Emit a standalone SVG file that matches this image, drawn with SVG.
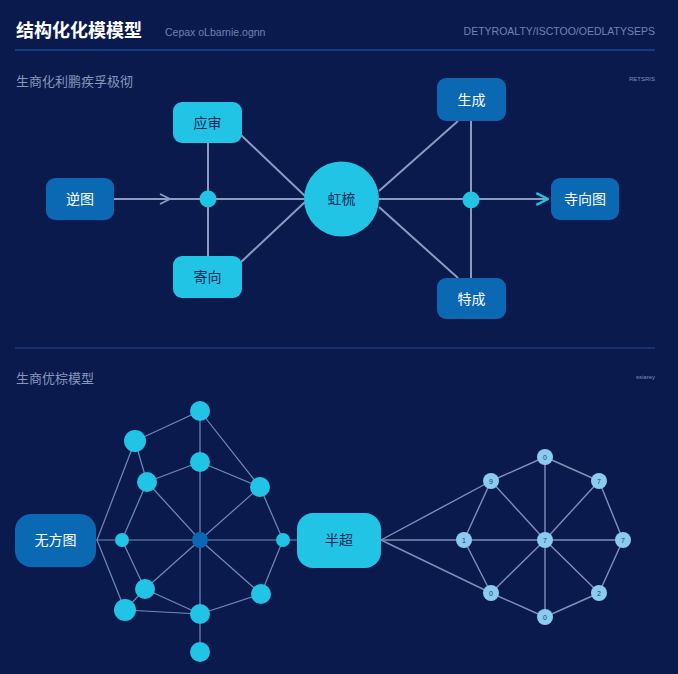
<svg xmlns="http://www.w3.org/2000/svg" width="678" height="674" viewBox="0 0 678 674">
<defs>
<linearGradient id="topfade" x1="0" x2="1" y1="0" y2="0">
<stop offset="0" stop-color="#2a7fc6"/><stop offset="1" stop-color="#2a7fc6" stop-opacity="0"/>
</linearGradient>
<marker id="arrG" viewBox="0 0 12 12" refX="11" refY="6" markerWidth="12" markerHeight="12" markerUnits="userSpaceOnUse" orient="auto">
<path d="M1,1 L11,6 L1,11" fill="none" stroke="#8b9cc2" stroke-width="1.8"/>
</marker>
<marker id="arrC" viewBox="0 0 12 12" refX="11" refY="6" markerWidth="14" markerHeight="14" markerUnits="userSpaceOnUse" orient="auto">
<path d="M1,1 L11,6 L1,11" fill="none" stroke="#22c4e6" stroke-width="2"/>
</marker>
</defs>
<style>
text{font-family:"Noto Sans CJK SC","Liberation Sans",sans-serif}
.title{font-size:18px;font-weight:bold;fill:#ffffff}
.sub{font-size:10.5px;fill:#7383ad;font-family:"Liberation Sans","Noto Sans CJK SC",sans-serif}
.sec{font-size:13px;fill:#8796bd}
.tiny{font-size:6px;fill:#7e8fb8;font-family:"Liberation Sans",sans-serif}
.rule{stroke:#1e5fa8;stroke-width:1}
.cy{fill:#22c4e6}
.db{fill:#0b68b3}
.lbd{font-size:14px;fill:#0d2a5a;text-anchor:middle}
.lbw{font-size:14px;fill:#ffffff;text-anchor:middle}
.e1{stroke:#8b9cc2;stroke-width:2;fill:none}
.e2{stroke:#6f8bbb;stroke-width:1.2;fill:none}
.e3{stroke:#8090b8;stroke-width:1.4;fill:none}
.lb{fill:#8ccbf0}
.num{font-size:7px;fill:#1a3a6a;text-anchor:middle;font-family:"Liberation Sans",sans-serif}
</style>
<rect width="678" height="674" fill="#0a1a4d"/>
<line x1="15" y1="8" x2="300" y2="8" stroke="url(#topfade)" stroke-width="1"/>
<text class="title" x="16" y="37">结构化化模模型</text>
<text class="sub" x="165" y="36">Cepax oLbarnie.ognn</text>
<text class="sub" x="655" y="35" text-anchor="end" font-size="8.6">DETYROALTY/ISCTOO/OEDLATYSEPS</text>
<line class="rule" x1="15" y1="50" x2="655" y2="50"/>
<text class="sec" x="16" y="86">生商化利鹏疾孚极彻</text>
<text class="tiny" x="655" y="81" text-anchor="end">RETSRIS</text>
<line class="rule" x1="15" y1="348" x2="655" y2="348" stroke-opacity="0.8"/>
<text class="sec" x="16" y="383">生商优棕模型</text>
<text class="tiny" x="655" y="379" text-anchor="end">ssiarey</text>

<g id="connectors">
<line class="e1" x1="114" y1="199" x2="170" y2="199" marker-end="url(#arrG)"/>
<line class="e1" x1="170" y1="199" x2="304" y2="199"/>
<line class="e1" x1="208" y1="143" x2="208" y2="256"/>
<line class="e1" x1="241" y1="135" x2="305" y2="196"/>
<line class="e1" x1="240" y1="263" x2="305" y2="202"/>
<line class="e1" x1="379" y1="191" x2="458" y2="121"/>
<line class="e1" x1="379" y1="207" x2="458" y2="278"/>
<line class="e1" x1="471" y1="121" x2="471" y2="278"/>
<line class="e1" x1="379" y1="199" x2="548" y2="199" marker-end="url(#arrC)"/>

<line class="e2" x1="135" y1="441" x2="200" y2="411"/>
<line class="e2" x1="200" y1="411" x2="200" y2="652"/>
<line class="e2" x1="200" y1="411" x2="260" y2="487"/>
<line class="e2" x1="135" y1="441" x2="147" y2="482"/>
<line class="e2" x1="200" y1="462" x2="147" y2="482"/>
<line class="e2" x1="200" y1="462" x2="260" y2="487"/>
<line class="e2" x1="147" y1="482" x2="200" y2="540"/>
<line class="e2" x1="260" y1="487" x2="200" y2="540"/>
<line class="e2" x1="147" y1="482" x2="122" y2="540"/>
<line class="e2" x1="260" y1="487" x2="283" y2="540"/>
<line class="e2" x1="97" y1="540" x2="135" y2="441"/>
<line class="e2" x1="97" y1="540" x2="125" y2="610"/>
<line class="e2" x1="96" y1="540" x2="297" y2="540"/>
<line class="e2" x1="122" y1="540" x2="145" y2="589"/>
<line class="e2" x1="200" y1="540" x2="145" y2="589"/>
<line class="e2" x1="200" y1="540" x2="261" y2="594"/>
<line class="e2" x1="283" y1="540" x2="261" y2="594"/>
<line class="e2" x1="145" y1="589" x2="200" y2="614"/>
<line class="e2" x1="125" y1="610" x2="200" y2="614"/>
<line class="e2" x1="125" y1="610" x2="145" y2="589"/>
<line class="e2" x1="200" y1="614" x2="261" y2="594"/>

<line class="e3" x1="381" y1="540" x2="491" y2="481"/>
<line class="e3" x1="381" y1="540" x2="623" y2="540"/>
<line class="e3" x1="381" y1="540" x2="491" y2="593"/>
<line class="e3" x1="491" y1="481" x2="545" y2="457"/>
<line class="e3" x1="545" y1="457" x2="599" y2="481"/>
<line class="e3" x1="491" y1="481" x2="464" y2="540"/>
<line class="e3" x1="491" y1="481" x2="545" y2="540"/>
<line class="e3" x1="545" y1="457" x2="545" y2="617"/>
<line class="e3" x1="599" y1="481" x2="545" y2="540"/>
<line class="e3" x1="599" y1="481" x2="623" y2="540"/>
<line class="e3" x1="464" y1="540" x2="491" y2="593"/>
<line class="e3" x1="491" y1="593" x2="545" y2="540"/>
<line class="e3" x1="545" y1="540" x2="599" y2="593"/>
<line class="e3" x1="623" y1="540" x2="599" y2="593"/>
<line class="e3" x1="491" y1="593" x2="545" y2="617"/>
<line class="e3" x1="545" y1="617" x2="599" y2="593"/>
</g>

<g id="n-nitu"><rect class="db" x="46" y="178" width="68" height="42" rx="9"/><text class="lbw" x="80" y="204">逆图</text></g>
<g id="n-yingshen"><rect class="cy" x="173" y="102" width="69" height="41" rx="9"/><text class="lbd" x="207.5" y="127.5">应审</text></g>
<g id="n-jixiang"><rect class="cy" x="173" y="256" width="69" height="42" rx="9"/><text class="lbd" x="207.5" y="282">寄向</text></g>
<g id="j1"><circle class="cy" cx="208" cy="199" r="8.5"/></g>
<g id="n-hub"><circle class="cy" cx="341.5" cy="199" r="37.5"/><text class="lbd" x="341.5" y="204">虹梳</text></g>
<g id="n-shengcheng"><rect class="db" x="437" y="78" width="69" height="43" rx="9"/><text class="lbw" x="471.5" y="104.5">生成</text></g>
<g id="n-techeng"><rect class="db" x="437" y="278" width="69" height="41" rx="9"/><text class="lbw" x="471.5" y="303.5">特成</text></g>
<g id="j2"><circle class="cy" cx="471" cy="200" r="8.5"/></g>
<g id="n-sixiangtu"><rect class="db" x="551" y="178" width="68" height="42" rx="9"/><text class="lbw" x="585" y="204">寺向图</text></g>

<g id="n-wufangtu"><rect class="db" x="15" y="514" width="81" height="53" rx="16"/><text class="lbw" x="55.5" y="545">无方图</text></g>
<g id="u-nodes">
<circle class="cy" cx="200" cy="411" r="10"/>
<circle class="cy" cx="135" cy="441" r="11"/>
<circle class="cy" cx="200" cy="462" r="10"/>
<circle class="cy" cx="147" cy="482" r="10"/>
<circle class="cy" cx="260" cy="487" r="10"/>
<circle class="cy" cx="122" cy="540" r="7"/>
<circle class="db" cx="200" cy="540" r="8"/>
<circle class="cy" cx="283" cy="540" r="7"/>
<circle class="cy" cx="145" cy="589" r="10"/>
<circle class="cy" cx="125" cy="610" r="11"/>
<circle class="cy" cx="200" cy="614" r="10"/>
<circle class="cy" cx="261" cy="594" r="10"/>
<circle class="cy" cx="200" cy="652" r="10"/>
</g>
<g id="n-banchao"><rect class="cy" x="297" y="513" width="84" height="55" rx="16"/><text class="lbd" x="339" y="545">半超</text></g>
<g id="w-nodes">
<g><circle class="lb" cx="545" cy="457" r="8"/><text class="num" x="545" y="459.5">0</text></g>
<g><circle class="lb" cx="491" cy="481" r="8"/><text class="num" x="491" y="483.5">9</text></g>
<g><circle class="lb" cx="599" cy="481" r="8"/><text class="num" x="599" y="483.5">7</text></g>
<g><circle class="lb" cx="464" cy="540" r="8"/><text class="num" x="464" y="542.5">1</text></g>
<g><circle class="lb" cx="545" cy="540" r="8"/><text class="num" x="545" y="542.5">7</text></g>
<g><circle class="lb" cx="623" cy="540" r="8"/><text class="num" x="623" y="542.5">7</text></g>
<g><circle class="lb" cx="491" cy="593" r="8"/><text class="num" x="491" y="595.5">0</text></g>
<g><circle class="lb" cx="599" cy="593" r="8"/><text class="num" x="599" y="595.5">2</text></g>
<g><circle class="lb" cx="545" cy="617" r="8"/><text class="num" x="545" y="619.5">0</text></g>
</g>
</svg>
